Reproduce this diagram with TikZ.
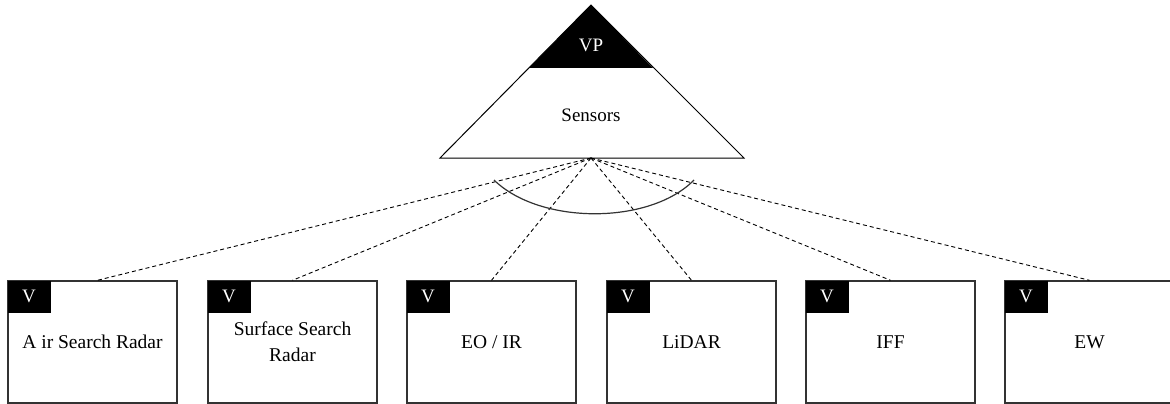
\documentclass[tikz,border=0pt]{standalone}
\usepackage{fontspec}
\setmainfont{Liberation Serif}
\begin{document}
\begin{tikzpicture}[x=1pt,y=-1pt,
  sysbox/.style={draw=black!80,line width=1.4pt,fill=white,minimum width=169pt,minimum height=122pt,inner sep=0pt,align=center,font=\fontsize{19.5}{26}\selectfont},
  vtag/.style={fill=black,text=white,minimum width=43pt,minimum height=32pt,inner sep=0pt,anchor=north west,font=\fontsize{19}{22}\selectfont},
  link/.style={dashed,dash pattern=on 4pt off 3pt,line width=0.9pt},
  lbl/.style={font=\fontsize{19}{22}\selectfont}]
\useasboundingbox (0,0) rectangle (1170,404);
% triangle
\coordinate (apex) at (591,5);
\coordinate (bl) at (440,158);
\coordinate (br) at (744,158);
\coordinate (hub) at (591,158);
\coordinate (vl) at (529,68);
\coordinate (vr) at (653,68);
\draw[line width=1pt,fill=white] (apex) -- (bl) -- (br) -- cycle;
\fill (apex) -- (vl) -- (vr) -- cycle;
\node[lbl,text=white] (vp) at (591,45) {VP};
\node[lbl] (sensors) at (591,115) {Sensors};
% boxes
\node[sysbox] (b1) at (92.5,342) {A ir Search Radar};
\node[sysbox] (b2) at (292.5,342) {Surface Search\\Radar};
\node[sysbox] (b3) at (491.5,342) {EO / IR};
\node[sysbox] (b4) at (691.5,342) {LiDAR};
\node[sysbox] (b5) at (890.5,342) {IFF};
\node[sysbox] (b6) at (1089.5,342) {EW};
\foreach \b in {b1,b2,b3,b4,b5,b6}{
  \node[vtag] (\b v) at (\b.north west) {V};
}
% connectors
\draw[link] (hub) -- ([xshift=5pt]b1.north);
\foreach \b in {b2,b3,b4,b5,b6}{
  \draw[link] (hub) -- (\b.north);
}
% arc
\coordinate (al) at (494,180);
\coordinate (ar) at (694,180);
\draw[line width=1.2pt,black!80] (al) .. controls (540,225) and (650,225) .. (ar);
\end{tikzpicture}
\end{document}
